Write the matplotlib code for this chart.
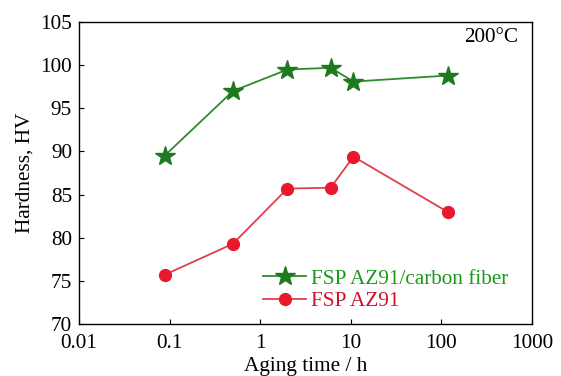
import numpy as np
import matplotlib
matplotlib.use('Agg')
import matplotlib.pyplot as plt

# Dados (tempo de envelhecimento em h, dureza em HV)
t_cf = [0.088, 0.5, 2, 6, 10.7, 117]
hv_cf = [89.5, 97.0, 99.5, 99.7, 98.1, 98.8]

t_az = [0.088, 0.5, 2, 6, 10.7, 117]
hv_az = [75.7, 79.3, 85.7, 85.8, 89.4, 83.0]

lab_cf = 'FSP AZ91/carbon fiber'
lab_az = 'FSP AZ91'

xticks = [0.01, 0.1, 1, 10, 100, 1000]
xticklabels = ['0.01', '0.1', '1', '10', '100', '1000']
yticks = [70, 75, 80, 85, 90, 95, 100, 105]

plt.rcParams['font.family'] = 'Liberation Serif'
plt.rcParams['font.size'] = 15.3

fig = plt.figure(figsize=(5.61, 3.76), dpi=100)
ax = fig.add_axes([0.1408, 0.1383, 0.8075, 0.803])

ax.plot(t_cf, hv_cf, '-', color='#2f8a2f', lw=1.3, marker='*', ms=15,
        mfc='#1e7a1e', mec='#1e7a1e', label=lab_cf)
ax.plot(t_az, hv_az, '-', color='#e0404c', lw=1.3, marker='o', ms=8.5,
        mfc='#e8192c', mec='#e8192c', label=lab_az)

ax.set_xscale('log')
ax.set_xlim(0.01, 1000)
ax.set_ylim(70, 105)
ax.set_xticks(xticks)
ax.set_xticklabels(xticklabels)
ax.set_yticks(yticks)
ax.minorticks_off()
ax.tick_params(direction='in', length=3.5, width=0.8)
ax.tick_params(axis='x', pad=7)
ax.tick_params(axis='y', pad=5)
ax.set_xlabel('Aging time / h', labelpad=3)
ax.set_ylabel('Hardness, HV', labelpad=4)
for s in ax.spines.values():
    s.set_linewidth(1.0)

ax.text(0.969, 0.95, '200°C', transform=ax.transAxes, ha='right', va='center')

leg = ax.legend(loc='lower right', bbox_to_anchor=(0.967, 0.015), frameon=False,
                handlelength=2.0, handletextpad=0.25, labelspacing=0.12, borderaxespad=0)
leg.get_texts()[0].set_color('#1a9a1a')
leg.get_texts()[1].set_color('#d0102a')

plt.savefig('out.png', dpi=100)
